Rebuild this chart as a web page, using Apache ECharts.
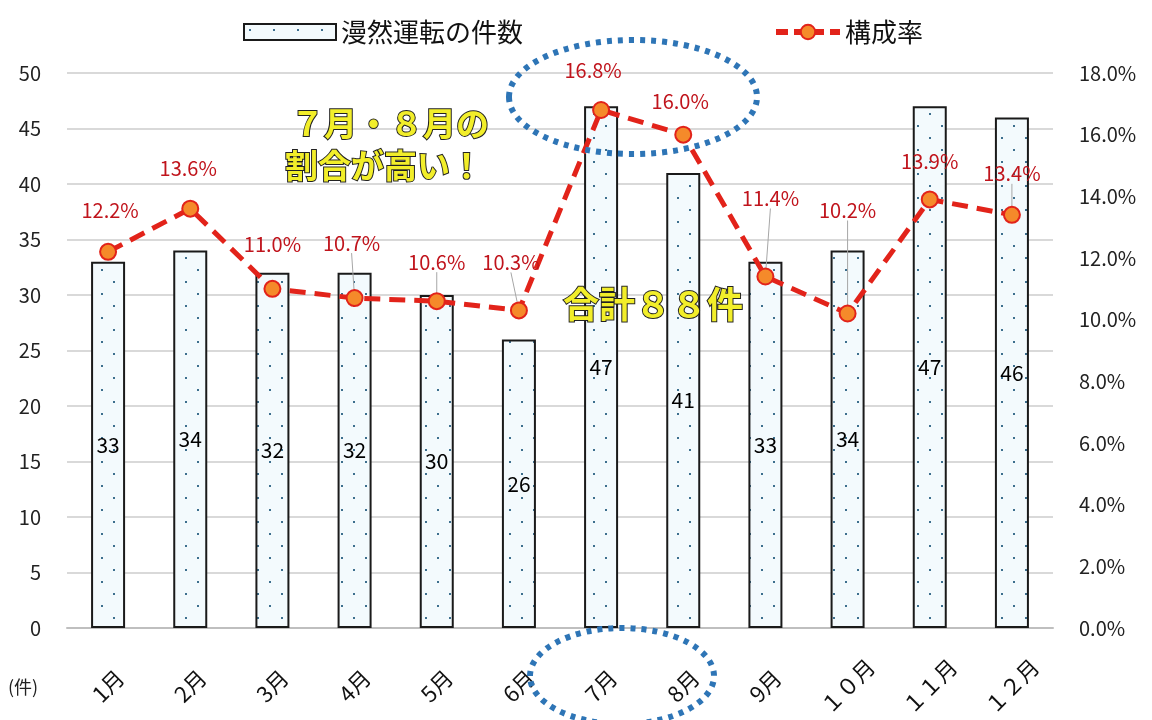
<!DOCTYPE html>
<html><head><meta charset="utf-8">
<script src="https://cdn.jsdelivr.net/npm/echarts@6/dist/echarts.min.js"></script>
<style>html,body{margin:0;padding:0;background:#fff}#c{width:1152px;height:720px}</style>
</head><body><div id="c"></div>
<script>
const categories = ['1月','2月','3月','4月','5月','6月','7月','8月','9月','１０月','１１月','１２月'];
const counts = [33,34,32,32,30,26,47,41,33,34,47,46];
const ratios = [12.2,13.6,11.0,10.7,10.6,10.3,16.8,16.0,11.4,10.2,13.9,13.4];
const leftTicks = {min:0, max:50, step:5};
const rightTicks = {min:0, max:18, step:2};
// label offsets (style only)
const labelShift = [[2,-41],[-2,-40],[0,-44],[-3,-55],[0,-39],[-8,-48],[-8,-40],[-3,-33],[5,-78],[0,-103],[0,-38],[0,-41]];
const guideIdx = [3,4,5,8,9,11];

const FONT = '"Noto Sans CJK JP", sans-serif';
// dotted pattern
const pc = document.createElement('canvas');
pc.width = 24; pc.height = 24;
const g = pc.getContext('2d');
g.fillStyle = '#f3fafd'; g.fillRect(0,0,24,24);
g.fillStyle = '#3d6f8e';
g.fillRect(5,5,2,2); g.fillRect(17,17,2,2);

const chart = echarts.init(document.getElementById('c'));
chart.setOption({
  animation:false,
  grid:{left:67,right:99,top:73,bottom:92},
  legend:[
    {left:238,top:14,itemWidth:92,itemHeight:16,itemGap:10,
     data:[{name:'漫然運転の件数',icon:'rect'}],
     textStyle:{fontSize:26,color:'#111',fontFamily:FONT}},
    {left:768,top:14,itemWidth:64,itemHeight:18,
     data:['構成率'],
     lineStyle:{width:6,type:[12,6]},
     textStyle:{fontSize:26,color:'#111',fontFamily:FONT}}
  ],
  xAxis:{type:'category',data:categories,
    axisLine:{lineStyle:{color:'#bfbfbf',width:2}},axisTick:{show:false},
    axisLabel:{rotate:45,align:'center',verticalAlign:'middle',fontSize:22,color:'#111',fontFamily:FONT,margin:58}},
  yAxis:[
    {type:'value',min:leftTicks.min,max:leftTicks.max,interval:leftTicks.step,
     axisLabel:{fontSize:20,color:'#222',fontFamily:FONT,margin:26},
     splitLine:{lineStyle:{color:'#d9d9d9',width:2}},axisLine:{show:false},axisTick:{show:false}},
    {type:'value',min:rightTicks.min,max:rightTicks.max,interval:rightTicks.step,
     axisLabel:{fontSize:20,color:'#222',fontFamily:FONT,margin:26,formatter:v=>v.toFixed(1)+'%'},
     splitLine:{show:false},axisLine:{show:false},axisTick:{show:false}}
  ],
  series:[
    {name:'漫然運転の件数',type:'bar',data:counts,barWidth:34,
     itemStyle:{color:{image:pc,repeat:'repeat'},borderColor:'#1a1a1a',borderWidth:2},
     label:{show:true,position:'inside',color:'#000',fontSize:21,fontFamily:FONT}},
    {name:'構成率',type:'line',yAxisIndex:1,z:5,
     data:ratios.map((v,i)=>({value:v,labelLine:{show:guideIdx.includes(i)}})),
     symbol:'circle',symbolSize:16,
     itemStyle:{color:'#f58a2a',borderColor:'#e2231a',borderWidth:2},
     lineStyle:{color:'#e2231a',width:5,type:[16,9]},
     label:{show:true,position:'inside',color:'#c0141c',fontSize:20,fontFamily:FONT,
       formatter:p=>p.value.toFixed(1)+'%'},
     labelLine:{show:false,lineStyle:{color:'#a6a6a6',width:1}},
     labelLayout:p=>({dx:labelShift[p.dataIndex][0],dy:labelShift[p.dataIndex][1]})}
  ],
  graphic:[
    {type:'ellipse',shape:{cx:633,cy:97,rx:124,ry:57},z:10,
     style:{fill:'none',stroke:'#2e75b6',lineWidth:6,lineDash:[5,6]}},
    {type:'ellipse',shape:{cx:622,cy:676,rx:92,ry:48},z:10,
     style:{fill:'none',stroke:'#2e75b6',lineWidth:6,lineDash:[5,6]}},
    {type:'text',left:290,top:106,z:10,style:{text:'７月・８月の',font:'bold 33px '+FONT,fill:'#f2ee2a',stroke:'#222',lineWidth:2}},
    {type:'text',left:284,top:148,z:10,style:{text:'割合が高い！',font:'bold 33px '+FONT,fill:'#f2ee2a',stroke:'#222',lineWidth:2}},
    {type:'text',left:562,top:285,z:10,style:{text:'合計８８件',font:'bold 36px '+FONT,fill:'#f2ee2a',stroke:'#222',lineWidth:2}},
    {type:'text',left:8,top:678,style:{text:'(件)',font:'18px '+FONT,fill:'#222'}}
  ]
});
</script></body></html>
